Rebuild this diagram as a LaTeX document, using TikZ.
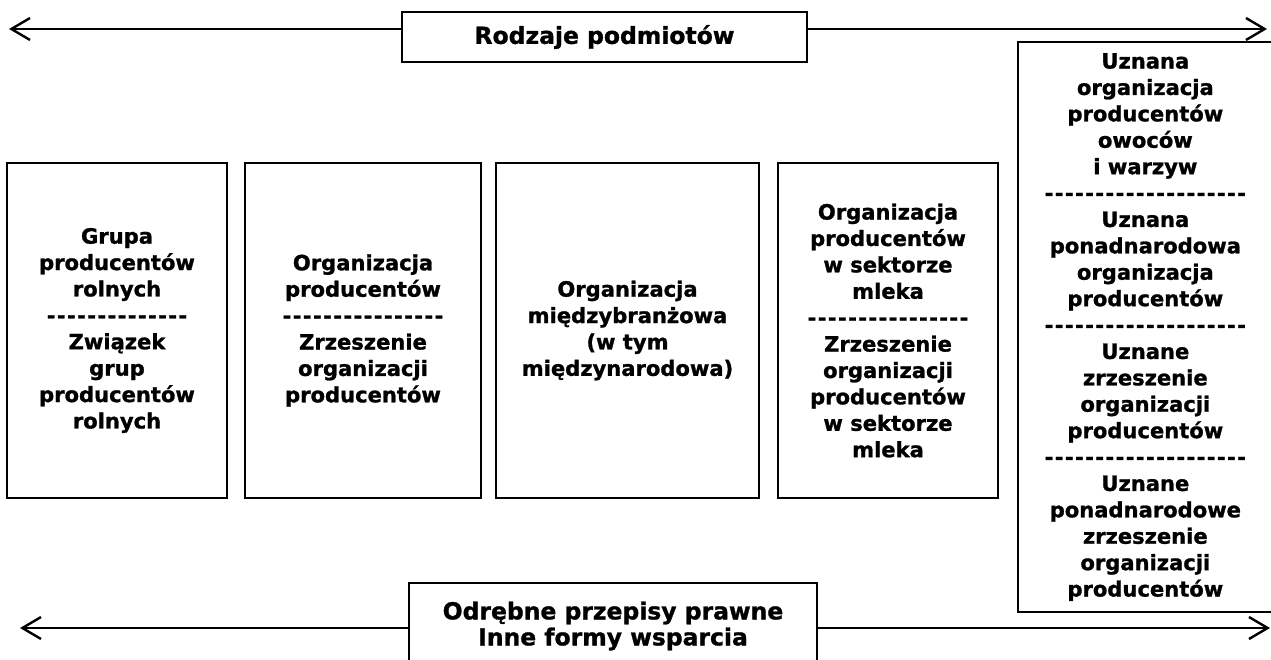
\documentclass[tikz,border=0pt]{standalone}
\usepackage{fontspec}
\setmainfont{DejaVu Sans}[BoldFeatures={FakeBold=1.2}]
\usepackage{tikz}
\usetikzlibrary{arrows.meta,positioning}
\newcommand{\dashrow}[1]{\foreach \d in {1,...,#1}{\makebox[7.6pt]{-}}}
\tikzset{
    banner/.style={
        rectangle, draw, line width=1.8pt, outer sep=0pt,
        minimum width=304pt, minimum height=37.5pt,
        align=center, font=\fontsize{17.6}{19.5}\selectfont\bfseries
    },
    kind/.style={
        rectangle, draw, line width=1.7pt, outer sep=0pt,
        minimum height=251.25pt,
        align=center, font=\fontsize{15.8}{19.8}\selectfont\bfseries
    },
    sidearrow/.style={-{Straight Barb[length=14pt,width=16.5pt]},line width=1.8pt}
}

\begin{document}
\begin{tikzpicture}[x=0.75pt,y=-0.75pt]
\useasboundingbox (0,0) rectangle (1271,660);

% Top banner
\node[banner] (kinds) at (604.5,37) {Rodzaje podmiotów};
\coordinate (tl) at (9,29);
\coordinate (tr) at (1267,29);

% Row of kinds
\node[kind, minimum width=165pt] (grupa) at (117,330.5)
    {Grupa\\producentów\\rolnych\\\dashrow{14}\\Związek\\grup\\producentów\\rolnych};
\node[kind, minimum width=177pt, right=13.5pt of grupa] (org)
    {Organizacja\\producentów\\\dashrow{16}\\Zrzeszenie\\organizacji\\producentów};
\node[kind, minimum width=197.25pt, right=11.25pt of org] (miedzy)
    {Organizacja\\międzybranżowa\\(w tym\\międzynarodowa)};
\node[kind, minimum width=165pt, right=14.25pt of miedzy] (mleko)
    {Organizacja\\producentów\\w sektorze\\mleka\\\dashrow{16}\\Zrzeszenie\\organizacji\\producentów\\w sektorze\\mleka};
\node[kind, minimum width=191pt, minimum height=427.5pt, right=15pt of mleko, yshift=2.6pt] (uznane)
    {Uznana\\organizacja\\producentów\\owoców\\i warzyw\\\dashrow{20}\\Uznana\\ponadnarodowa\\organizacja\\producentów\\\dashrow{20}\\Uznane\\zrzeszenie\\organizacji\\producentów\\\dashrow{20}\\Uznane\\ponadnarodowe\\zrzeszenie\\organizacji\\producentów};

% Bottom banner
\node[banner, minimum width=306pt, minimum height=64.5pt] (law) at (613,626)
    {Odrębne przepisy prawne\\Inne formy wsparcia};
\coordinate (bl) at (20,628);
\coordinate (br) at (1270,628);

% Arrows
\draw[sidearrow] (kinds.west |- tl) -- (tl);
\draw[sidearrow] (kinds.east |- tr) -- (tr);
\draw[sidearrow] (law.west |- bl) -- (bl);
\draw[sidearrow] (law.east |- br) -- (br);

\end{tikzpicture}
\end{document}
